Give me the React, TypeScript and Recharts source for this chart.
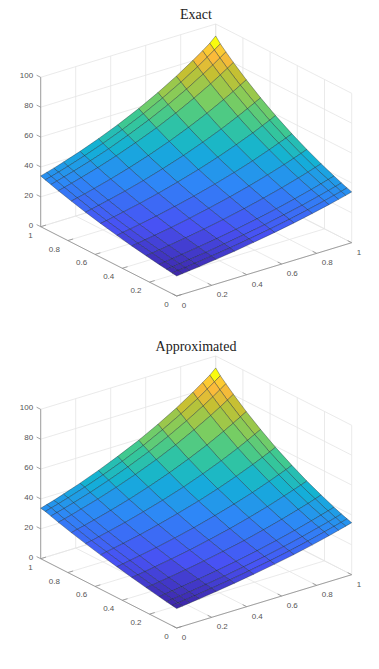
import React from 'react'
import { ScatterChart, Scatter, XAxis, YAxis } from 'recharts'

// grid nodes shared by both axes
const nodes = [0, 0.034, 0.075, 0.13, 0.225, 0.33, 0.44, 0.56, 0.67, 0.775, 0.87, 0.925, 0.966, 1]

// z[row for y][column for x]
const zExact = [
  [13.4, 13.8, 14.4, 15.1, 16.5, 18.2, 20.2, 22.6, 25.0, 27.6, 30.1, 31.7, 32.9, 34.0],
  [13.8, 14.3, 14.8, 15.6, 17.1, 18.8, 20.9, 23.3, 25.8, 28.5, 31.1, 32.8, 34.0, 35.1],
  [14.4, 14.8, 15.4, 16.2, 17.7, 19.6, 21.7, 24.2, 26.9, 29.6, 32.4, 34.1, 35.4, 36.5],
  [15.1, 15.6, 16.2, 17.1, 18.7, 20.6, 22.9, 25.6, 28.4, 31.3, 34.2, 36.0, 37.4, 38.6],
  [16.5, 17.1, 17.7, 18.7, 20.4, 22.5, 25.0, 28.0, 31.1, 34.3, 37.5, 39.5, 41.1, 42.4],
  [18.2, 18.8, 19.6, 20.6, 22.5, 24.9, 27.7, 31.0, 34.4, 38.0, 41.6, 43.8, 45.6, 47.1],
  [20.2, 20.9, 21.7, 22.9, 25.0, 27.7, 30.7, 34.5, 38.3, 42.3, 46.4, 48.9, 50.8, 52.5],
  [22.6, 23.3, 24.2, 25.6, 28.0, 31.0, 34.5, 38.7, 43.0, 47.6, 52.1, 55.0, 57.2, 59.1],
  [25.0, 25.8, 26.9, 28.4, 31.1, 34.4, 38.3, 43.0, 47.9, 53.0, 58.1, 61.3, 63.8, 65.9],
  [27.6, 28.5, 29.6, 31.3, 34.3, 38.0, 42.3, 47.6, 53.0, 58.7, 64.4, 67.9, 70.7, 73.1],
  [30.1, 31.1, 32.4, 34.2, 37.5, 41.6, 46.4, 52.1, 58.1, 64.4, 70.6, 74.6, 77.6, 80.3],
  [31.7, 32.8, 34.1, 36.0, 39.5, 43.8, 48.9, 55.0, 61.3, 67.9, 74.6, 78.7, 82.0, 84.8],
  [32.9, 34.0, 35.4, 37.4, 41.1, 45.6, 50.8, 57.2, 63.8, 70.7, 77.6, 82.0, 85.4, 88.3],
  [34.0, 35.1, 36.5, 38.6, 42.4, 47.1, 52.5, 59.1, 65.9, 73.1, 80.3, 84.8, 88.3, 92.0],
]

const zApprox = [
  [13.0, 13.5, 14.1, 14.9, 16.4, 18.2, 20.3, 22.8, 25.3, 28.0, 30.7, 32.4, 33.7, 34.8],
  [13.5, 14.0, 14.6, 15.4, 17.0, 18.8, 21.0, 23.5, 26.1, 28.9, 31.7, 33.4, 34.7, 35.8],
  [14.1, 14.6, 15.2, 16.0, 17.6, 19.5, 21.7, 24.4, 27.1, 30.0, 32.9, 34.6, 36.0, 37.1],
  [15.0, 15.5, 16.1, 17.0, 18.6, 20.6, 22.9, 25.7, 28.6, 31.6, 34.6, 36.5, 37.9, 39.1],
  [16.6, 17.1, 17.8, 18.7, 20.5, 22.6, 25.1, 28.1, 31.3, 34.6, 37.9, 39.9, 41.5, 42.9],
  [18.5, 19.1, 19.8, 20.9, 22.8, 25.1, 27.9, 31.2, 34.7, 38.3, 42.0, 44.2, 45.9, 47.4],
  [20.6, 21.3, 22.1, 23.3, 25.4, 28.0, 31.0, 34.8, 38.6, 42.6, 46.7, 49.2, 51.1, 52.8],
  [23.0, 23.8, 24.7, 26.0, 28.4, 31.4, 34.9, 39.0, 43.3, 47.9, 52.4, 55.2, 57.4, 59.3],
  [25.4, 26.2, 27.3, 28.8, 31.5, 34.9, 38.7, 43.3, 48.2, 53.2, 58.3, 61.5, 64.0, 66.1],
  [27.9, 28.9, 30.0, 31.7, 34.7, 38.4, 42.7, 47.9, 53.3, 58.9, 64.6, 68.1, 70.9, 73.2],
  [30.4, 31.4, 32.7, 34.6, 37.9, 42.0, 46.7, 52.4, 58.3, 64.6, 70.8, 74.7, 77.7, 80.4],
  [32.0, 33.1, 34.4, 36.3, 39.8, 44.2, 49.2, 55.2, 61.5, 68.1, 74.7, 78.8, 82.1, 84.9],
  [33.2, 34.3, 35.7, 37.7, 41.4, 45.9, 51.1, 57.4, 64.0, 70.9, 77.7, 82.1, 85.5, 88.4],
  [33.8, 35.0, 36.4, 38.6, 42.5, 47.3, 52.8, 59.3, 66.1, 73.2, 80.4, 84.9, 88.4, 92.0],
]

const horizontalTicks = [0, 0.2, 0.4, 0.6, 0.8, 1]
const zTicks = [0, 20, 40, 60, 80, 100]

const parula = [
  [62, 38, 168], [72, 82, 244], [46, 135, 247], [18, 177, 214], [55, 200, 151],
  [125, 205, 95], [195, 192, 50], [250, 186, 58], [252, 207, 48], [249, 251, 14],
]
// face z (lowest corner) against position in the colormap, matched by eye
const colorZ = [13, 20.4, 30.7, 38.7, 47.9, 58.7, 70.6, 78.7, 82, 85.4]
const colorPos = [0, 0.11, 0.22, 0.31, 0.42, 0.55, 0.67, 0.78, 0.86, 1]

const chartW = 379
const chartH = 337

// corners of the box on screen
const front = { x: 176.7, y: 296 }
const xEdge = { x: 175, y: -53.3 }
const yEdge = { x: -136, y: -69.3 }
const zPerUnit = 1.494

const project = (x: number, y: number, z: number) => ({
  sx: front.x + x * xEdge.x + y * yEdge.x,
  sy: front.y + x * xEdge.y + y * yEdge.y - z * zPerUnit,
})

const colorOf = (z: number) => {
  let k = 0
  while (k < colorZ.length - 2 && z > colorZ[k + 1]) k++
  const pos = colorPos[k] + ((colorPos[k + 1] - colorPos[k]) * (z - colorZ[k])) / (colorZ[k + 1] - colorZ[k])
  const t = Math.min(1, Math.max(0, pos)) * (parula.length - 1)
  const i = Math.min(parula.length - 2, Math.floor(t))
  const f = t - i
  const c = parula[i].map((v, n) => Math.round(v + (parula[i + 1][n] - v) * f))
  return `rgb(${c[0]},${c[1]},${c[2]})`
}

type Seg = { sx: number; sy: number; dx: number; dy: number; stroke: string }

const seg = (a: number[], b: number[], stroke: string): Seg => {
  const p = project(a[0], a[1], a[2])
  const q = project(b[0], b[1], b[2])
  return { ...p, dx: q.sx - p.sx, dy: q.sy - p.sy, stroke }
}

const gridColor = '#e4e4e4'
const axisColor = '#8c8c8c'

const gridSegs: Seg[] = []
horizontalTicks.forEach((t) => {
  gridSegs.push(seg([t, 0, 0], [t, 1, 0], gridColor))
  gridSegs.push(seg([0, t, 0], [1, t, 0], gridColor))
  gridSegs.push(seg([t, 1, 0], [t, 1, 100], gridColor))
  gridSegs.push(seg([1, t, 0], [1, t, 100], gridColor))
})
zTicks.forEach((z) => {
  gridSegs.push(seg([0, 1, z], [1, 1, z], gridColor))
  gridSegs.push(seg([1, 1, z], [1, 0, z], gridColor))
})

const axisSegs: Seg[] = [
  seg([0, 0, 0], [1, 0, 0], axisColor),
  seg([0, 0, 0], [0, 1, 0], axisColor),
  seg([0, 1, 0], [0, 1, 100], axisColor),
]
horizontalTicks.forEach((t) => {
  axisSegs.push(seg([t, 0, 0], [t, 0.03, 0], axisColor))
  axisSegs.push(seg([0, t, 0], [0.03, t, 0], axisColor))
})
zTicks.forEach((z) => axisSegs.push(seg([0, 1, z], [0, 1.03, z], axisColor)))

const tickText = [
  ...zTicks.map((z) => ({ ...project(0, 1, z), label: String(z), anchor: 'end', ox: -7.5, oy: 1 })),
  ...horizontalTicks.map((t) => ({ ...project(0, t, 0), label: String(t), anchor: 'end', ox: -8, oy: 11 })),
  ...horizontalTicks.map((t) => ({ ...project(t, 0, 0), label: String(t), anchor: 'start', ox: 5, oy: 12 })),
]

const buildCells = (z: number[][]) => {
  const cells = []
  // back to front, so nearer faces paint over the farther ones
  for (let j = nodes.length - 2; j >= 0; j--) {
    for (let i = nodes.length - 2; i >= 0; i--) {
      const a = project(nodes[i], nodes[j], z[j][i])
      const b = project(nodes[i + 1], nodes[j], z[j][i + 1])
      const c = project(nodes[i + 1], nodes[j + 1], z[j + 1][i + 1])
      const d = project(nodes[i], nodes[j + 1], z[j + 1][i])
      cells.push({
        ...a,
        rel: [b, c, d].map((p) => [p.sx - a.sx, p.sy - a.sy]),
        fill: colorOf(z[j][i]),
      })
    }
  }
  return cells
}

const SegShape = (props: any) => {
  const { cx, cy, payload } = props
  return <line x1={cx} y1={cy} x2={cx + payload.dx} y2={cy + payload.dy} stroke={payload.stroke} strokeWidth={0.8} />
}

const CellShape = (props: any) => {
  const { cx, cy, payload } = props
  const pts = [[0, 0], ...payload.rel].map((r: number[]) => `${cx + r[0]},${cy + r[1]}`).join(' ')
  return <polygon points={pts} fill={payload.fill} stroke="#10202a" strokeOpacity={0.6} strokeWidth={0.6} />
}

const TickShape = (props: any) => {
  const { cx, cy, payload } = props
  return (
    <text x={cx + payload.ox} y={cy + payload.oy} textAnchor={payload.anchor} fontSize={8} fontFamily="Liberation Sans" fill="#555">
      {payload.label}
    </text>
  )
}

const Surface3D = ({ title, z, top, titleY }: { title: string; z: number[][]; top: number; titleY: number }) => (
  <div style={{ position: 'absolute', left: 0, top, width: chartW, height: chartH }}>
    <ScatterChart width={chartW} height={chartH} margin={{ top: 0, right: 0, bottom: 0, left: 0 }}>
      <XAxis type="number" dataKey="sx" domain={[0, chartW]} hide />
      <YAxis type="number" dataKey="sy" domain={[0, chartH]} reversed hide />
      <Scatter data={gridSegs} shape={SegShape} isAnimationActive={false} />
      <Scatter data={axisSegs} shape={SegShape} isAnimationActive={false} />
      <Scatter data={tickText} shape={TickShape} isAnimationActive={false} />
      <Scatter data={buildCells(z)} shape={CellShape} isAnimationActive={false} />
    </ScatterChart>
    <div style={{ position: 'absolute', left: 0, width: chartW, top: titleY, textAlign: 'center', paddingLeft: 13, boxSizing: 'border-box', font: '14px "Liberation Serif"', color: '#222' }}>
      {title}
    </div>
  </div>
)

export default function App() {
  return (
    <div style={{ position: 'absolute', left: 0, top: 0, width: chartW, height: 669, background: '#fff' }}>
      <Surface3D title="Exact" z={zExact} top={0} titleY={7} />
      <Surface3D title="Approximated" z={zApprox} top={332} titleY={7} />
    </div>
  )
}
